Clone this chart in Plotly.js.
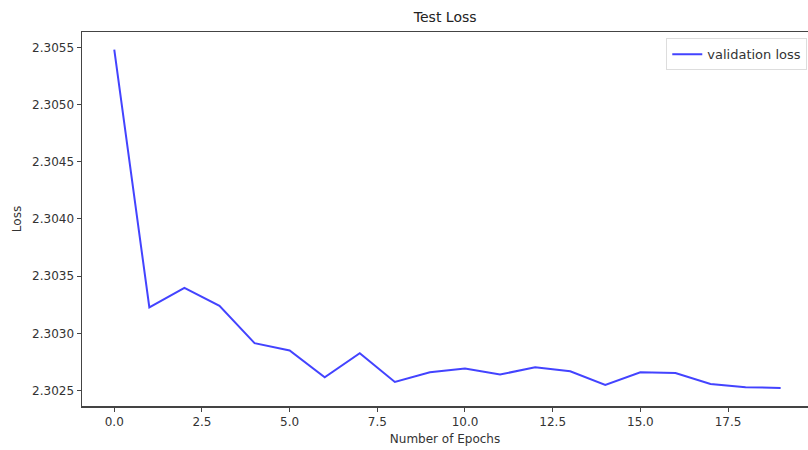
<!DOCTYPE html>
<html>
<head>
<meta charset="utf-8">
<script src="https://cdn.plot.ly/plotly-3.0.1.min.js"></script>
<style>html,body{margin:0;padding:0;background:#fff;}#chart{width:808px;height:450px;}</style>
</head>
<body>
<div id="chart"></div>
<script>
const epochs = [0,1,2,3,4,5,6,7,8,9,10,11,12,13,14,15,16,17,18,19];
const validationLoss = [2.30548,2.303226,2.303398,2.30324,2.302914,2.30285,2.302616,2.302826,2.302575,2.30266,2.302693,2.30264,2.302704,2.302669,2.302549,2.30266,2.302654,2.302558,2.302529,2.302523];
const xTicks = [0,2.5,5,7.5,10,12.5,15,17.5];
const xTickLabels = ['0.0','2.5','5.0','7.5','10.0','12.5','15.0','17.5'];
const yTicks = [2.3025,2.3030,2.3035,2.3040,2.3045,2.3050,2.3055];
const yTickLabels = ['2.3025','2.3030','2.3035','2.3040','2.3045','2.3050','2.3055'];

const trace = {
  x: epochs, y: validationLoss, type: 'scatter', mode: 'lines',
  name: 'validation loss',
  line: {color: 'rgba(20,20,255,0.8)', width: 2}
};
const font = {family: 'DejaVu Sans, sans-serif', size: 12, color: '#333'};
const layout = {
  width: 808, height: 450,
  margin: {l: 82, r: 0, t: 32, b: 44, pad: 0},
  paper_bgcolor: '#fff', plot_bgcolor: '#fff',
  font: font,
  title: {text: 'Test Loss', x: 0.551, xanchor: 'center', y: 0.962, yanchor: 'middle', font: {family: 'DejaVu Sans, sans-serif', size: 14, color: '#222'}},
  showlegend: true,
  legend: {x: 0.999, xanchor: 'right', y: 0.983, yanchor: 'top', bgcolor: '#fff', bordercolor: '#ddd', borderwidth: 1, tracegroupgap: 0, itemwidth: 30, font: {family: 'DejaVu Sans, sans-serif', size: 13, color: '#333'}},
  xaxis: {
    range: [-0.92, 19.78], tickvals: xTicks, ticktext: xTickLabels,
    showgrid: false, zeroline: false, showline: true, mirror: true, linecolor: '#444', linewidth: 1.5,
    ticks: 'outside', ticklen: 4, tickcolor: '#444', tickfont: {size: 12, color: '#333'},
    title: {text: 'Number of Epochs', standoff: 6, font: {size: 12, color: '#333'}}
  },
  yaxis: {
    range: [2.302365, 2.305634], tickvals: yTicks, ticktext: yTickLabels,
    showgrid: false, zeroline: false, showline: true, mirror: false, linecolor: '#444', linewidth: 1.5,
    ticks: 'outside', ticklen: 4, tickcolor: '#444', tickfont: {size: 12, color: '#333'},
    title: {text: 'Loss', standoff: 8, font: {size: 12, color: '#333'}}
  }
};
Plotly.newPlot('chart', [trace], layout, {displayModeBar: false, staticPlot: true});
</script>
</body>
</html>
